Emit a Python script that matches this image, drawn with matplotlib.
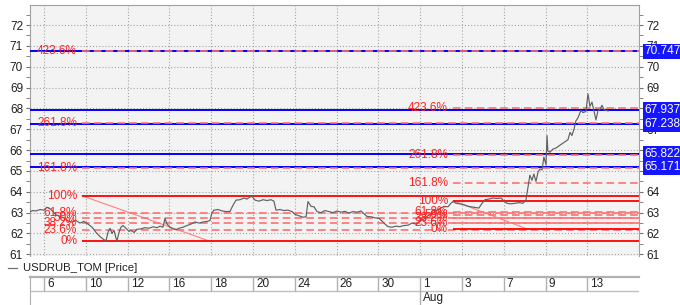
import matplotlib
matplotlib.use('Agg')
import matplotlib.pyplot as plt
import pandas as pd
from matplotlib.ticker import MultipleLocator
from matplotlib.lines import Line2D

plt.rcParams['font.family'] = ['Liberation Sans', 'DejaVu Sans']
plt.rcParams['lines.scale_dashes'] = False

# ---------------- data ----------------
trading_days = pd.bdate_range('2018-07-06', '2018-08-14')   # index 0 = Jul 6

# time in trading days from Jul 6 (fractional = intraday)
t_day = [-0.67, -0.53, -0.38, -0.19, 0.00, 0.14, 0.29, 0.43, 0.57, 0.77, 0.96, 1.15,
         1.34, 1.53, 1.72, 1.91, 2.11, 2.30, 2.49, 2.68, 2.87, 2.97, 3.06, 3.16,
         3.25, 3.35, 3.44, 3.49, 3.59, 3.68, 3.78, 3.92, 4.07, 4.16, 4.31, 4.45,
         4.64, 4.83, 5.02, 5.22, 5.41, 5.55, 5.69, 5.79, 5.89, 6.03, 6.17, 6.32,
         6.46, 6.65, 6.84, 7.03, 7.22, 7.42, 7.61, 7.80, 7.94, 8.04, 8.13, 8.33,
         8.52, 8.71, 8.90, 9.04, 9.19, 9.38, 9.57, 9.71, 9.86, 9.95, 10.10, 10.29,
         10.48, 10.67, 10.86, 11.00, 11.10, 11.29, 11.48, 11.67, 11.87, 12.01, 12.20, 12.39,
         12.54, 12.63, 12.78, 12.92, 13.06, 13.25, 13.44, 13.64, 13.83, 14.02, 14.21, 14.40,
         14.59, 14.78, 14.98, 15.17, 15.31, 15.45, 15.65, 15.84, 16.03, 16.17, 16.32, 16.46,
         16.65, 16.84, 17.03, 17.22, 17.42, 17.61, 17.80, 17.99, 18.18, 18.37, 18.56, 18.76,
         18.95, 19.14, 19.33, 19.47, 19.57, 19.71, 19.90, 20.10, 20.24, 20.43, 20.62, 20.81,
         20.96, 21.10, 21.29, 21.48, 21.67, 21.87, 22.01, 22.15, 22.34, 22.54, 22.73, 22.92,
         23.06, 23.16, 23.25, 23.35, 23.44, 23.54, 23.64, 23.73, 23.83, 23.92, 24.02, 24.07,
         24.11, 24.21, 24.35, 24.50, 24.64, 24.78, 24.93, 25.07, 25.17, 25.26, 25.36, 25.45,
         25.55, 25.69, 25.79, 25.93, 26.03, 26.12, 26.22, 26.32, 26.41, 26.51, 26.60, 26.70,
         26.79, 26.89, 26.99]
price = [63.05, 63.10, 63.08, 63.15, 63.12, 63.26, 63.18, 63.05, 62.90, 62.82, 62.75, 62.60,
         62.55, 62.62, 62.50, 62.58, 62.45, 62.30, 62.05, 61.85, 61.70, 61.66, 62.05, 62.25,
         62.00, 62.15, 61.80, 61.65, 62.05, 62.30, 62.38, 62.25, 62.10, 62.15, 62.05, 62.20,
         62.22, 62.28, 62.25, 62.32, 62.28, 62.35, 62.30, 62.72, 62.45, 62.30, 62.22, 62.18,
         62.25, 62.30, 62.38, 62.45, 62.55, 62.50, 62.55, 62.58, 62.62, 63.00, 63.12, 63.15,
         63.08, 63.05, 63.06, 63.35, 63.60, 63.62, 63.70, 63.65, 63.75, 63.78, 63.60, 63.55,
         63.62, 63.58, 63.62, 63.55, 63.12, 63.15, 63.10, 63.12, 63.05, 62.92, 62.85, 62.78,
         62.80, 63.53, 63.30, 63.28, 63.05, 63.00, 63.10, 63.05, 63.00, 63.08, 63.02, 63.06,
         62.98, 63.05, 63.02, 63.08, 62.95, 62.82, 62.80, 62.75, 62.72, 62.60, 62.45, 62.33,
         62.30, 62.35, 62.33, 62.38, 62.40, 62.50, 62.45, 62.60, 62.70, 62.85, 62.95, 63.10,
         63.20, 63.30, 63.28, 63.45, 63.53, 63.45, 63.42, 63.38, 63.32, 63.28, 63.25, 63.22,
         63.45, 63.62, 63.65, 63.70, 63.68, 63.70, 63.55, 63.45, 63.42, 63.45, 63.48, 63.45,
         63.60, 64.24, 64.80, 64.55, 64.85, 64.50, 64.95, 65.10, 65.05, 65.67, 65.30, 66.70,
         65.95, 65.90, 66.05, 66.10, 66.20, 66.30, 66.40, 66.50, 66.85, 66.70, 67.00, 67.40,
         67.55, 67.90, 67.80, 67.85, 68.70, 68.10, 68.30, 67.85, 67.45, 67.90, 67.95, 68.15,
         67.95, 67.90, 67.88]

series_name = 'USDRUB_TOM [Price]'

fib_ratios = [0.0, 0.236, 0.382, 0.5, 0.618, 1.0, 1.618, 2.618, 4.236]
fib_labels = ['0%', '23.6%', '38.2%', '50%', '61.8%', '100%', '161.8%', '261.8%', '423.6%']

fib1_low, fib1_high = 61.66, 63.81
fib1_start, fib1_trend_end = 1.82, 7.85
fib2_low, fib2_high = 62.20, 63.57
fib2_start, fib2_trend_end = 19.57, 23.16

price_lines = [70.747, 67.937, 67.238, 65.822, 65.171]

y_ticks = list(range(61, 73))

# ---------------- layout ----------------
W, H = 680, 305
fig = plt.figure(figsize=(W / 100, H / 100), dpi=100)
fig.patch.set_facecolor('white')

ax = fig.add_axes([30 / W, 1 - 256 / H, 609 / W, 251 / H])
ax.set_facecolor('#f3f3f3')
xmin, xmax = -0.67, 28.47
ax.set_xlim(xmin, xmax)
ax.set_ylim(60.92, 72.96)

tick_idx = list(range(0, len(trading_days) - 1, 2))
ax.set_xticks(tick_idx)
ax.tick_params(axis='x', length=0, labelbottom=False)
ax.set_yticks(y_ticks)
ax.yaxis.set_minor_locator(MultipleLocator(0.5))
ax.tick_params(axis='y', which='both', left=True, right=True, labelleft=True,
               labelright=True, length=3, color='#707070', labelsize=8.5, pad=2,
               labelcolor='#202020')
ax.grid(True, which='major', linestyle=(0, (0.75, 1.5)), color='#a0a0a0', lw=0.8)
for s in ['left', 'right', 'top']:
    ax.spines[s].set_color('#a0a0a0')
ax.spines['bottom'].set_visible(False)

# horizontal price lines
for v in price_lines:
    ax.axhline(v, color='#0000ff', lw=1.4, zorder=3)
    ax.annotate(f'{v:.3f}', xy=(1, v), xycoords=('axes fraction', 'data'),
                xytext=(5, 0), textcoords='offset pixels', ha='left', va='center',
                color='white', fontsize=8.5, annotation_clip=False, zorder=6,
                bbox=dict(boxstyle='square,pad=0.12', fc='#1515ff', ec='none'))


def draw_fib(low, high, start, trend_end):
    rng = high - low
    ax.plot([start, trend_end], [high, low], color='#ff8080', lw=0.8, zorder=3.5)
    for r, lab in zip(fib_ratios, fib_labels):
        lvl = low + r * rng
        if r in (0.0, 1.0):
            ax.hlines(lvl, start, xmax, color='#ff0000', lw=1.3, zorder=3.5)
        else:
            ax.hlines(lvl, start, xmax, color='#ff7070', lw=1.2, zorder=3.5,
                      linestyles=[(0, (5.5, 3))])
        ax.annotate(lab, xy=(start, lvl), xytext=(-5, 0), textcoords='offset pixels',
                    ha='right', va='center', color='#ff2020', fontsize=8.5, zorder=5)


draw_fib(fib1_low, fib1_high, fib1_start, fib1_trend_end)
draw_fib(fib2_low, fib2_high, fib2_start, fib2_trend_end)

ax.plot(t_day, price, color='#606060', lw=0.85, zorder=4)

# legend row
fig.add_artist(Line2D([8 / W, 17 / W], [1 - 268 / H] * 2, color='#707070', lw=0.9))
fig.text(23 / W, 1 - 268 / H, series_name, ha='left', va='center', fontsize=8.2,
         color='#202020')

# date panel
ax2 = fig.add_axes([30 / W, 0, 609 / W, 28 / H])
ax2.set_xlim(xmin, xmax)
ax2.set_ylim(0, 28)
ax2.set_facecolor('white')
ax2.set_xticks([])
ax2.set_yticks([])
for s in ['right', 'bottom']:
    ax2.spines[s].set_visible(False)
ax2.spines['top'].set_color('#b0b0b0')
ax2.spines['top'].set_linewidth(1.6)
ax2.spines['left'].set_color('#b0b0b0')
ax2.axhline(14, color='#c0c0c0', lw=1)
prev_month = None
for i in tick_idx:
    d = trading_days[i]
    month_change = prev_month is not None and d.month != prev_month
    prev_month = d.month
    ax2.vlines(i, 0 if month_change else 14, 28, color='#b0b0b0', lw=1)
    ax2.annotate(str(d.day), xy=(i, 21), xytext=(3, 0), textcoords='offset pixels',
                 ha='left', va='center', fontsize=8.5, color='#202020')
    if month_change:
        ax2.annotate(d.strftime('%b'), xy=(i, 7), xytext=(3, 0),
                     textcoords='offset pixels', ha='left', va='center',
                     fontsize=8.5, color='#202020')

fig.savefig('out.png', dpi=100, facecolor='white')
